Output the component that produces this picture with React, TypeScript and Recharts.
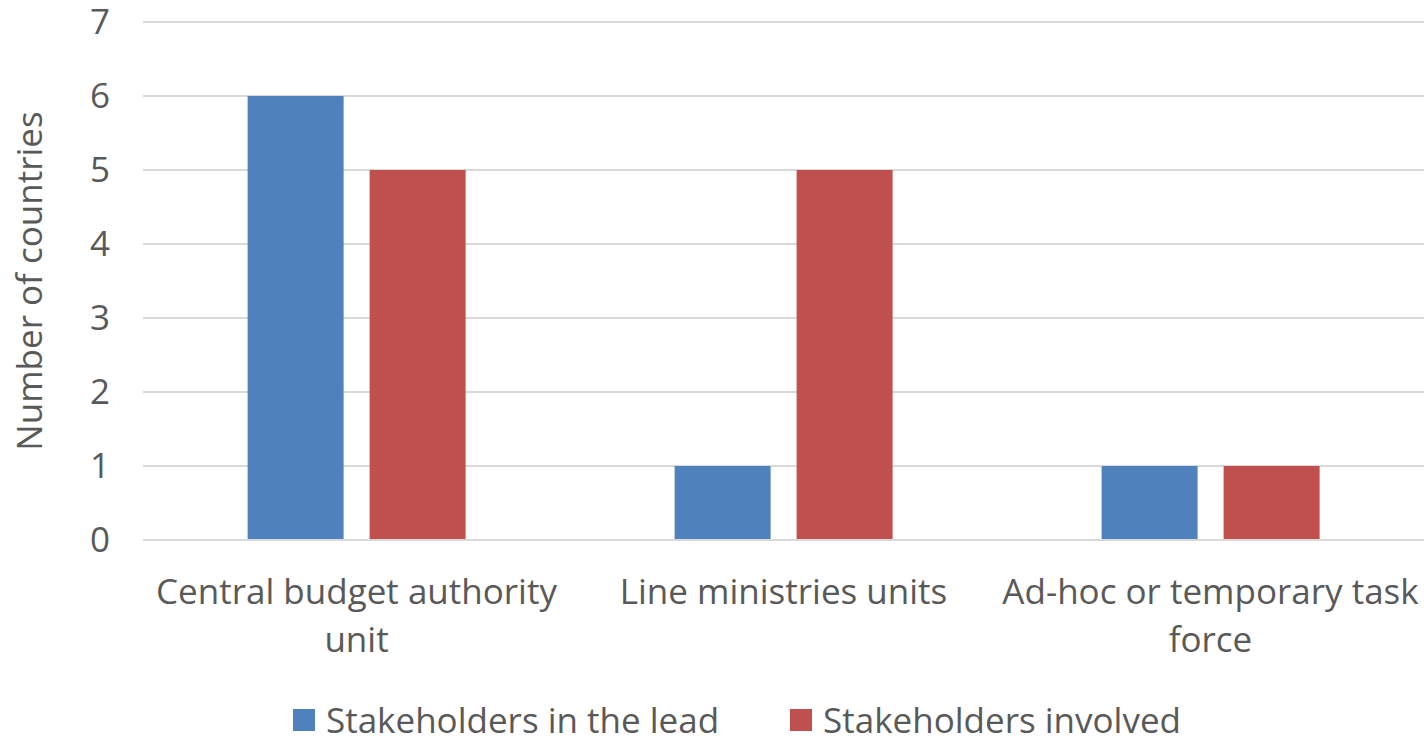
import React from 'react';
import { BarChart, Bar, XAxis, YAxis, CartesianGrid, Legend } from 'recharts';

const CATEGORIES = ['Central budget authority unit', 'Line ministries units', 'Ad-hoc or temporary task force'];
const TICK_LINES = [['Central budget authority', 'unit'], ['Line ministries units'], ['Ad-hoc or temporary task', 'force']];
const LEAD = [6, 1, 1];
const INVOLVED = [5, 5, 1];
const Y_TICKS = [0, 1, 2, 3, 4, 5, 6, 7];

const SERIES = [
  { key: 'lead', name: 'Stakeholders in the lead', color: '#4F81BD' },
  { key: 'involved', name: 'Stakeholders involved', color: '#C0504D' },
];

const data = CATEGORIES.map((c, i) => ({ category: c, lead: LEAD[i], involved: INVOLVED[i] }));

const FONT = '"Open Sans", sans-serif';
const TEXT = '#595959';
const SIZE = 35;

const CategoryTick = (props: any) => {
  const { x, y, payload } = props;
  const lines = TICK_LINES[payload.index] || [payload.value];
  return (
    <text x={x} y={y} textAnchor="middle" fill={TEXT} fontSize={SIZE} fontFamily={FONT}>
      {lines.map((l, i) => (
        <tspan key={i} x={x} dy={i === 0 ? 64 : 48}>
          {l}
        </tspan>
      ))}
    </text>
  );
};

const LegendContent = () => (
  <div
    style={{
      display: 'flex',
      justifyContent: 'center',
      paddingLeft: 50,
      paddingTop: 2,
      fontFamily: FONT,
      fontSize: SIZE,
      lineHeight: '38px',
      color: TEXT,
      gap: 71,
    }}
  >
    {SERIES.map((s) => (
      <span key={s.key} style={{ display: 'inline-flex', alignItems: 'center' }}>
        <span style={{ width: 22, height: 22, background: s.color, display: 'inline-block', marginRight: 11 }} />
        {s.name}
      </span>
    ))}
  </div>
);

export default function App() {
  return (
    <div style={{ position: 'absolute', left: 0, top: 0 }}>
      <BarChart
        width={1424}
        height={739}
        data={data}
        margin={{ top: 22, right: 0, left: 0, bottom: 0 }}
        barGap={26}
        barCategoryGap="24.5%"
      >
        <CartesianGrid vertical={false} stroke="#D9D9D9" strokeWidth={2} />
        <XAxis
          dataKey="category"
          axisLine={{ stroke: '#D9D9D9', strokeWidth: 2 }}
          tickLine={false}
          tickSize={0}
          tickMargin={0}
          height={159}
          interval={0}
          tick={<CategoryTick />}
        />
        <YAxis
          domain={[0, 7]}
          ticks={Y_TICKS}
          axisLine={false}
          tickLine={false}
          tickSize={0}
          tickMargin={33}
          width={143}
          tick={{ fill: TEXT, fontSize: SIZE, fontFamily: FONT }}
          label={{
            value: 'Number of countries',
            angle: -90,
            position: 'insideLeft',
            offset: 30,
            style: { fill: TEXT, fontSize: SIZE, fontFamily: FONT, textAnchor: 'middle' },
          }}
        />
        <Legend verticalAlign="bottom" height={40} content={<LegendContent />} />
        {SERIES.map((s) => (
          <Bar key={s.key} dataKey={s.key} name={s.name} fill={s.color} isAnimationActive={false} />
        ))}
      </BarChart>
    </div>
  );
}
